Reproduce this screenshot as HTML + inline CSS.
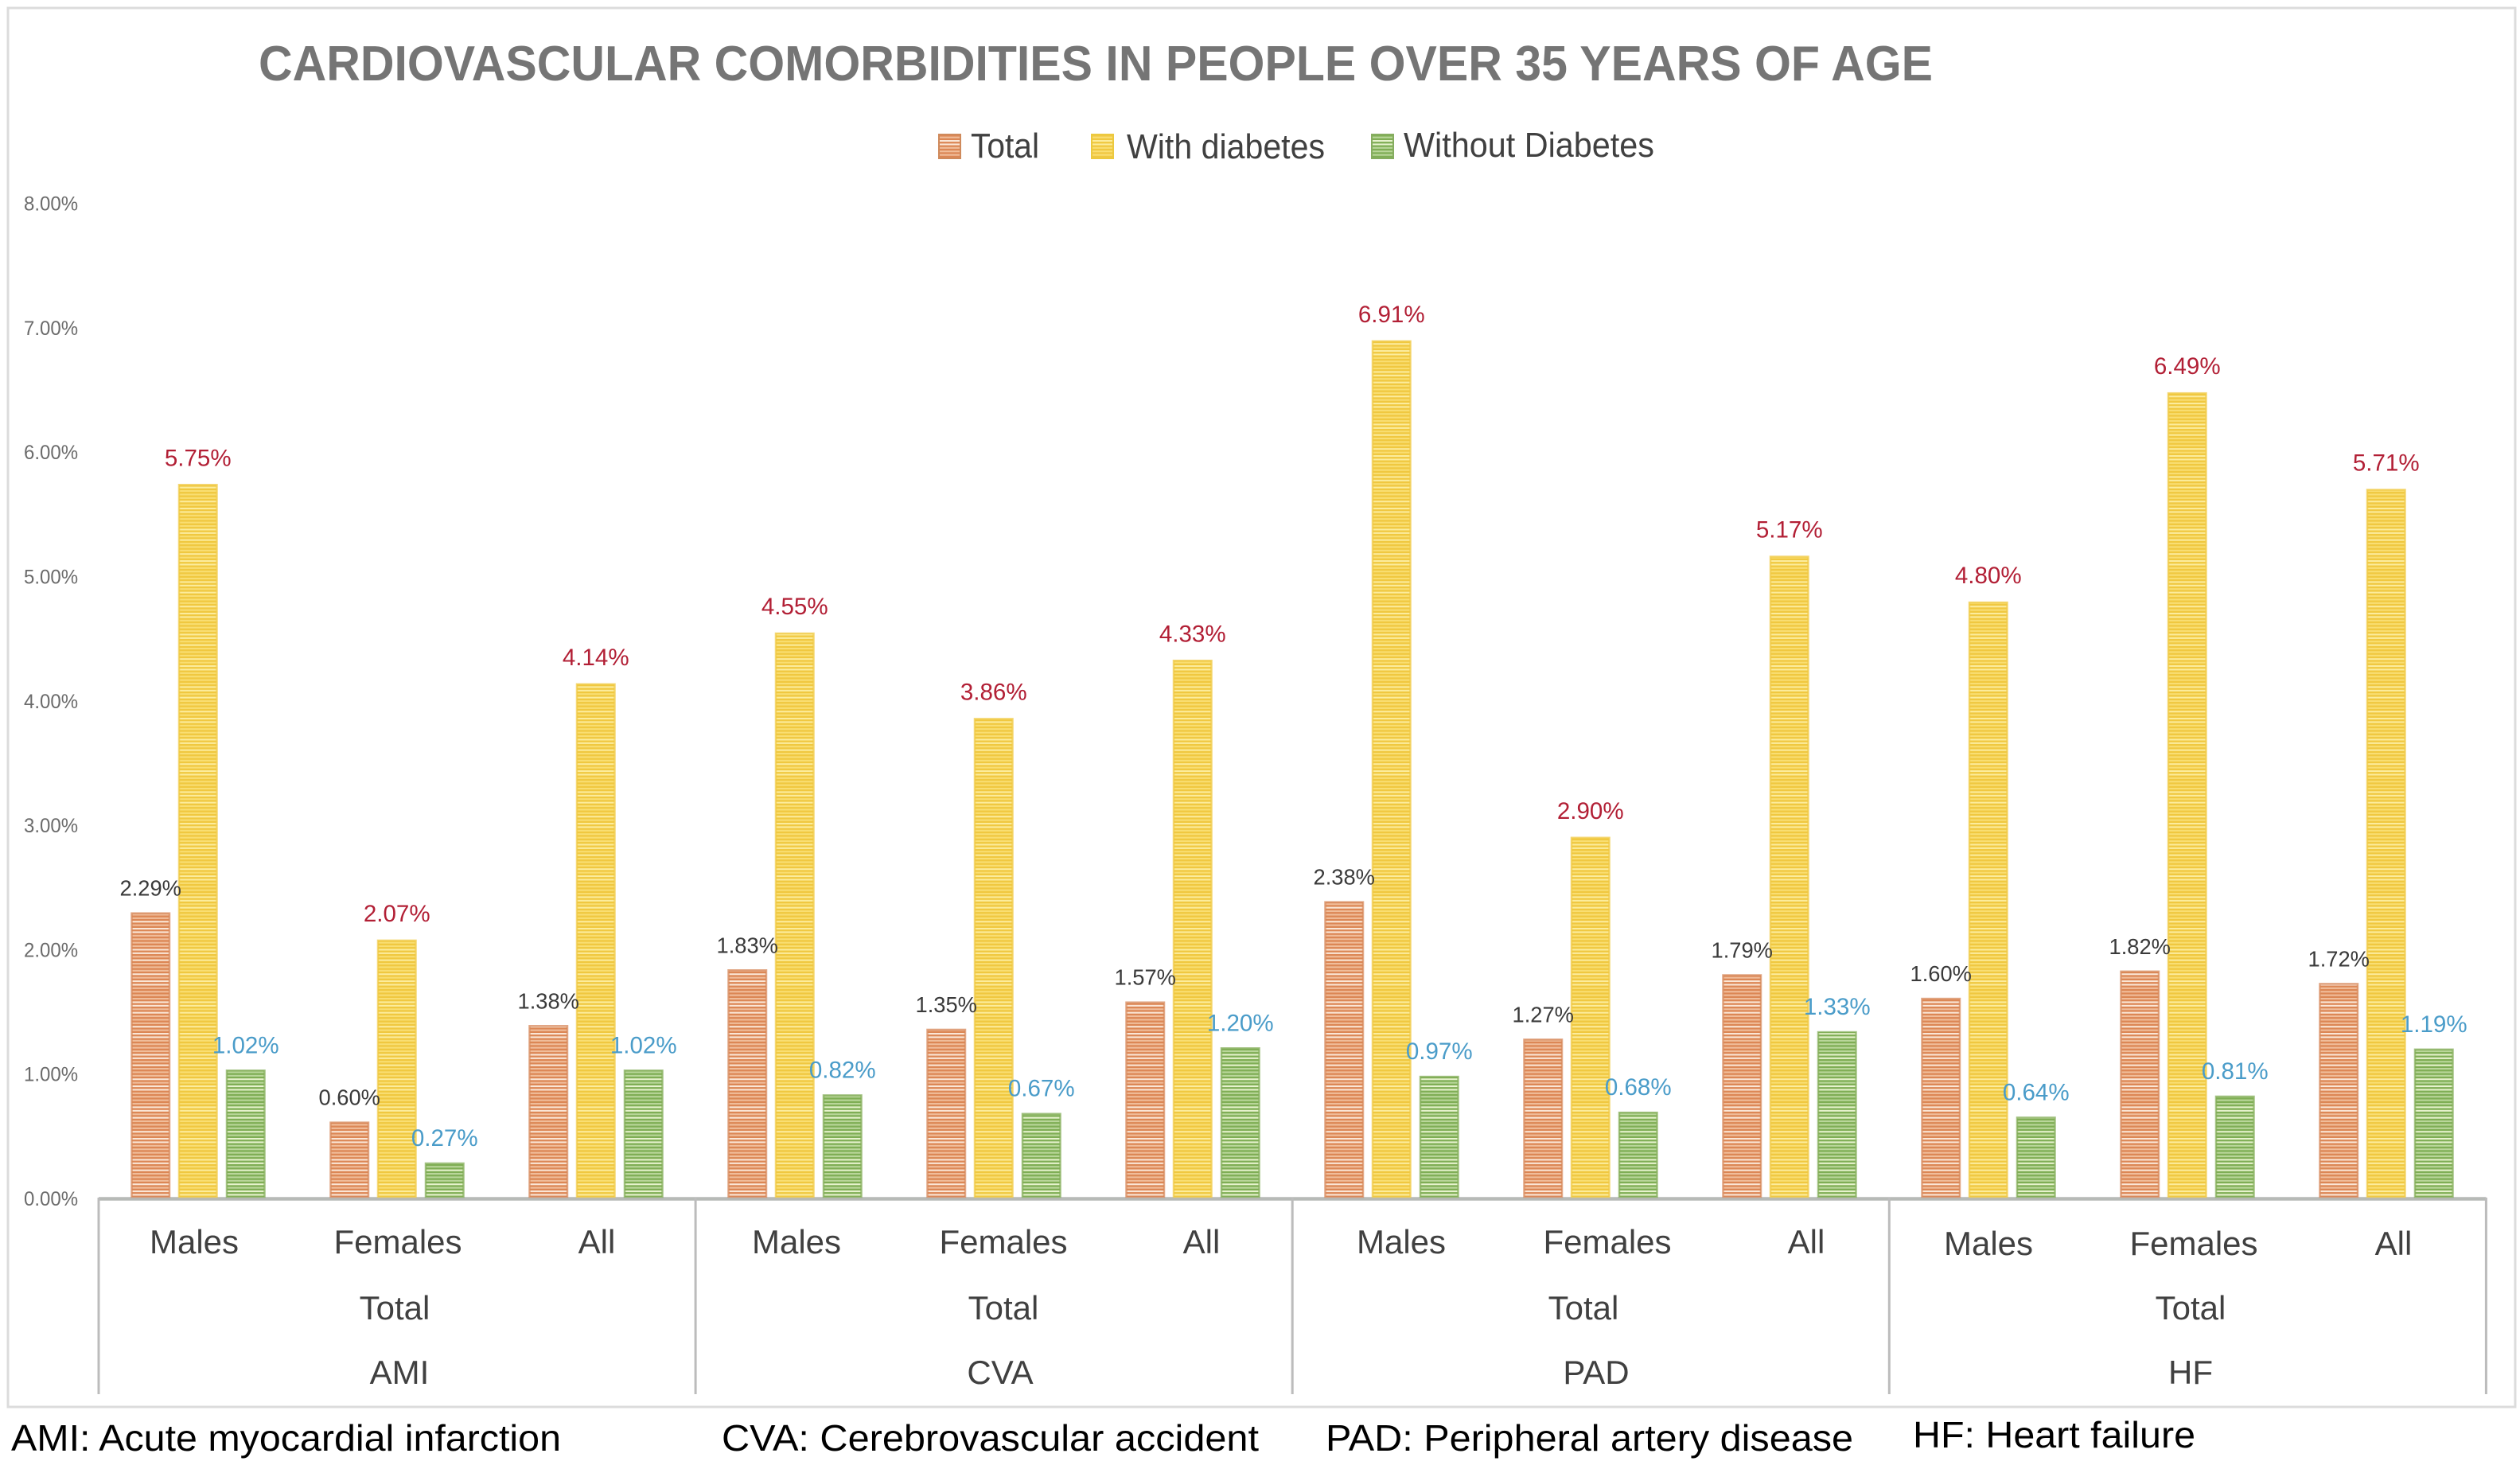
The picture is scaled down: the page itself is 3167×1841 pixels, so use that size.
<!DOCTYPE html>
<html lang="en">
<head>
<meta charset="utf-8">
<title>Cardiovascular comorbidities in people over 35 years of age</title>
<style>
html,body{margin:0;padding:0;background:#fff;}
svg{display:block;font-family:"Liberation Sans",Arial,sans-serif;}
</style>
</head>
<body>
<svg id="chart" xmlns="http://www.w3.org/2000/svg" width="3167" height="1841" viewBox="0 0 3167 1841">
  <defs id="defs"></defs>
  <rect x="0" y="0" width="3167" height="1841" fill="#fff"/>
  <rect x="10" y="10" width="3151" height="1758" fill="#fff" stroke="#dcdcdc" stroke-width="3"/>
  <text x="325" y="101" font-size="62" font-weight="700" fill="#757575" textLength="2104" lengthAdjust="spacingAndGlyphs">CARDIOVASCULAR COMORBIDITIES IN PEOPLE OVER 35 YEARS OF AGE</text>
  <g>
    <rect x="1180" y="169" width="27" height="30" fill="url(#stripe-total)" stroke="#cf8a5c" stroke-width="2"/>
    <text x="1220" y="198" font-size="44" fill="#404040" textLength="86" lengthAdjust="spacingAndGlyphs">Total</text>
    <rect x="1372" y="169" width="27" height="30" fill="url(#stripe-with)" stroke="#ecc93f" stroke-width="2"/>
    <text x="1416" y="199" font-size="44" fill="#404040" textLength="249" lengthAdjust="spacingAndGlyphs">With diabetes</text>
    <rect x="1724" y="169" width="27" height="30" fill="url(#stripe-without)" stroke="#86ad60" stroke-width="2"/>
    <text x="1764" y="197" font-size="44" fill="#404040" textLength="315" lengthAdjust="spacingAndGlyphs">Without Diabetes</text>
  </g>
  <g id="y-axis"></g>
  <g id="x-axis-line-layer"></g>
  <g id="bars"></g>
  <g id="value-labels"></g>
  <g id="x-axis"></g>
  <g fill="#000" font-size="46">
    <text x="14" y="1823" textLength="691" lengthAdjust="spacingAndGlyphs">AMI: Acute myocardial infarction</text>
    <text x="907" y="1823" textLength="675" lengthAdjust="spacingAndGlyphs">CVA: Cerebrovascular accident</text>
    <text x="1666" y="1823" textLength="663" lengthAdjust="spacingAndGlyphs">PAD: Peripheral artery disease</text>
    <text x="2404" y="1819" textLength="355" lengthAdjust="spacingAndGlyphs">HF: Heart failure</text>
  </g>
</svg>
<script>
const categories = ['Males','Females','All','Males','Females','All','Males','Females','All','Males','Females','All'];
const subGroups = ['Total','Total','Total','Total'];
const groups = ['AMI','CVA','PAD','HF'];
const totalValues = [2.29,0.60,1.38,1.83,1.35,1.57,2.38,1.27,1.79,1.60,1.82,1.72];
const withDiabetesValues = [5.75,2.07,4.14,4.55,3.86,4.33,6.91,2.90,5.17,4.80,6.49,5.71];
const withoutDiabetesValues = [1.02,0.27,1.02,0.82,0.67,1.20,0.97,0.68,1.33,0.64,0.81,1.19];
const yTickValues = [0,1,2,3,4,5,6,7,8];

const NS = 'http://www.w3.org/2000/svg';
const zeroY = 1504;
const pxPerPercent = 155.6;
const firstBarX = 165.5;
const categoryPitch = 250;
const barWidth = 47.5;
const axisLeft = 124;
const groupPitch = 750.1;

function yScale(v) { return zeroY - v * pxPerPercent; }
function tickY(t) { return zeroY + 2 - t * 156.3; }
function xScale(i) { return firstBarX + i * categoryPitch; }

function make(tag, attrs, parent, text) {
  const el = document.createElementNS(NS, tag);
  for (const k in attrs) el.setAttribute(k, attrs[k]);
  if (text !== undefined) el.textContent = text;
  parent.appendChild(el);
  return el;
}
function squeeze(el, factor) {
  el.setAttribute('textLength', (el.getComputedTextLength() * factor).toFixed(1));
  el.setAttribute('lengthAdjust', 'spacingAndGlyphs');
}

/* striped fills: base colour with thin lighter lines of varying strength */
const defs = document.getElementById('defs');
function stripePattern(id, base, bright, soft) {
  const period = 4.4;
  const p = make('pattern', {id: id, patternUnits: 'userSpaceOnUse', x: 0, y: 0, width: 8, height: period * 15}, defs);
  make('rect', {x: 0, y: 0, width: 8, height: period * 15, fill: base}, p);
  const stripes = [soft, bright, bright, soft, bright, soft, soft, soft, bright, soft, bright, bright, soft, soft, soft];
  stripes.forEach(function (c, i) {
    make('rect', {x: 0, y: i * period, width: 8, height: 2.1, fill: c}, p);
  });
}
stripePattern('stripe-total', '#dc8755', '#fae6d6', '#f0bd9a');
stripePattern('stripe-with', '#f0c840', '#fcec9c', '#f9de72');
stripePattern('stripe-without', '#7fae55', '#e6f2cd', '#b9d69a');

/* y axis tick labels */
const yAxis = document.getElementById('y-axis');
yTickValues.forEach(function (t) {
  const el = make('text', {x: 30, y: tickY(t) + 9, 'font-size': 25, fill: '#6b6b6b'}, yAxis, t.toFixed(2) + '%');
  squeeze(el, 0.96);
  
  
});

/* x axis line sits under the bars */
const lineLayer = document.getElementById('x-axis-line-layer');
const axisLine = make('line', {x1: axisLeft, x2: axisLeft + groupPitch * 4, y1: zeroY + 2.5, y2: zeroY + 2.5, stroke: '#b7bab7', 'stroke-width': 4.5}, lineLayer);



/* bars + value labels */
const barsG = document.getElementById('bars');
const labelsG = document.getElementById('value-labels');
const seriesList = [
  {key: 'total', values: totalValues, offset: 0, fill: 'url(#stripe-total)', edge: '#d78a5c', labelColor: '#3a3a3a', labelSize: 28, labelGap: 22, fit: 0.975},
  {key: 'with-diabetes', values: withDiabetesValues, offset: 59.5, fill: 'url(#stripe-with)', edge: '#f0ca45', labelColor: '#b21f35', labelSize: 30, labelGap: 24, fit: 0.985},
  {key: 'without-diabetes', values: withoutDiabetesValues, offset: 119.5, fill: 'url(#stripe-without)', edge: '#84ae5a', labelColor: '#4a9cc9', labelSize: 30, labelGap: 22, fit: 0.985}
];
seriesList.forEach(function (s) {
  s.values.forEach(function (v, i) {
    const x = xScale(i) + s.offset;
    const top = yScale(v);
    const bar = make('rect', {x: x, y: top, width: barWidth, height: zeroY - top, fill: s.fill, stroke: s.edge, 'stroke-width': 2.5, 'stroke-opacity': 0.75}, barsG);
    
    
    const lab = make('text', {x: x + barWidth / 2, y: top - s.labelGap, 'font-size': s.labelSize, fill: s.labelColor, 'text-anchor': 'middle'}, labelsG, v.toFixed(2) + '%');
    squeeze(lab, s.fit);
    
    
  });
});

/* x axis */
const xAxis = document.getElementById('x-axis');
for (let g = 0; g <= groups.length; g++) {
  const dx = axisLeft + g * groupPitch;
  const div = make('line', {x1: dx, x2: dx, y1: zeroY + 1, y2: 1752, stroke: '#bcbcbc', 'stroke-width': 3}, xAxis);
  
  
}
/* hand-read label offsets from each bar cluster's centre (layout only) */
const categoryLabelNudge = [-5,1,1,2,12,11,12,21,21,0,8,9];
const subGroupLabelNudge = [-3,12,-9,4];
const groupLabelNudge = [3,8,7,4];
const clusterCenter = function (i) { return xScale(i) + 83.5; };
categories.forEach(function (c, i) {
  const y = i >= 9 ? 1577 : 1575;
  const el = make('text', {x: clusterCenter(i) + categoryLabelNudge[i], y: y, 'font-size': 42, fill: '#404040', 'text-anchor': 'middle'}, xAxis, c);
  
  
});
subGroups.forEach(function (c, g) {
  const el = make('text', {x: clusterCenter(3 * g + 1) + subGroupLabelNudge[g], y: 1658, 'font-size': 42, fill: '#404040', 'text-anchor': 'middle'}, xAxis, c);
  
  
});
groups.forEach(function (c, g) {
  const el = make('text', {x: clusterCenter(3 * g + 1) + groupLabelNudge[g], y: 1739, 'font-size': 42, fill: '#404040', 'text-anchor': 'middle'}, xAxis, c);
  
  
});
</script>
</body>
</html>
